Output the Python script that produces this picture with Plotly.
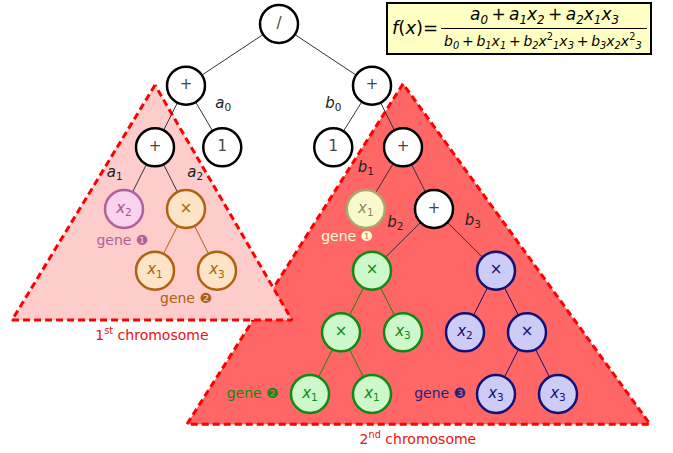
import plotly.graph_objects as go

# ---------------- data ----------------
# tree nodes: label, column (grid units), depth, colour group
node_labels = ["/", "+", "+", "+", "1", "1", "+",
               "<i>x</i><sub>2</sub>", "×", "<i>x</i><sub>1</sub>", "+",
               "<i>x</i><sub>1</sub>", "<i>x</i><sub>3</sub>", "×", "×",
               "×", "<i>x</i><sub>3</sub>", "<i>x</i><sub>2</sub>", "×",
               "<i>x</i><sub>1</sub>", "<i>x</i><sub>1</sub>", "<i>x</i><sub>3</sub>", "<i>x</i><sub>3</sub>"]
node_col = [9, 6, 12, 5, 7.17, 10.75, 13,
            4, 6, 11.8, 14,
            5, 7, 12, 16,
            11, 13, 15, 17,
            10, 12, 16, 18]
node_depth = [0, 1, 1, 2, 2, 2, 2,
              3, 3, 3, 3,
              4, 4, 4, 4,
              5, 5, 5, 5,
              6, 6, 6, 6]
node_group = ["k", "k", "k", "k", "k", "k", "k",
              "pink", "orange", "yellow", "k",
              "orange", "orange", "green", "blue",
              "green", "green", "blue", "blue",
              "green", "green", "blue", "blue"]
node_parent = [None, 0, 0, 1, 1, 2, 2,
               3, 3, 6, 6,
               8, 8, 10, 10,
               13, 13, 14, 14,
               15, 15, 18, 18]

# edge weights (labels) : text, column, depth
edge_labels = ["<i>a</i><sub>0</sub>", "<i>b</i><sub>0</sub>", "<i>a</i><sub>1</sub>",
               "<i>a</i><sub>2</sub>", "<i>b</i><sub>1</sub>", "<i>b</i><sub>2</sub>",
               "<i>b</i><sub>3</sub>"]
edge_label_col = [7.2, 10.75, 3.7, 6.3, 11.8, 12.75, 15.25]
edge_label_depth = [1.3, 1.3, 2.42, 2.42, 2.34, 3.23, 3.2]

# gene labels
gene_texts = ["gene ❶", "gene ❶", "gene ❷", "gene ❷", "gene ❸"]
gene_col = [3.95, 11.2, 6.0, 8.15, 14.2]
gene_depth = [3.52, 3.47, 4.47, 6.0, 6.0]
gene_group = ["pink", "yellow", "orange", "green", "blue"]

# chromosome regions (triangles): columns, depths
chrom1_col = [5, 0.39, 9.42, 5]
chrom1_depth = [0.99, 4.8, 4.8, 0.99]
chrom2_col = [13, 6.03, 20.97, 13]
chrom2_depth = [0.97, 6.49, 6.49, 0.97]
chrom_titles = ["1<sup>st</sup> chromosome", "2<sup>nd</sup> chromosome"]
chrom_title_col = [4.9, 13.48]
chrom_title_depth = [5.07, 6.75]

# formula text
formula_lhs = "<i>f</i>(<i>x</i>)="
formula_num = ("<i>a</i><sub><i>0</i></sub>\u2009+\u2009<i>a</i><sub><i>1</i></sub><i>x</i><sub><i>2</i></sub>"
               "\u2009+\u2009<i>a</i><sub><i>2</i></sub><i>x</i><sub><i>1</i></sub><i>x</i><sub><i>3</i></sub>")
formula_den = ("<i>b</i><sub><i>0</i></sub>\u2009+\u2009<i>b</i><sub><i>1</i></sub><i>x</i><sub><i>1</i></sub>"
               "\u2009+\u2009<i>b</i><sub><i>2</i></sub><i>x</i><sup>2</sup><sub><i>1</i></sub><i>x</i><sub><i>3</i></sub>"
               "\u2009+\u2009<i>b</i><sub><i>3</i></sub><i>x</i><sub><i>2</i></sub><i>x</i><sup>2</sup><sub><i>3</i></sub>")

# ---------------- styles ----------------
fills = {"k": "#ffffff", "pink": "#f9d2ee", "orange": "#fde4c6", "yellow": "#f9f9cc",
         "green": "#ccf8cc", "blue": "#ccccf6"}
borders = {"k": "#000000", "pink": "#b0609a", "orange": "#b0620f", "yellow": "#a8a86a",
           "green": "#108a10", "blue": "#10107a"}
textc = {"k": "#444444", "pink": "#a05a8e", "orange": "#a8620f", "yellow": "#8a8a60",
         "green": "#108a10", "blue": "#10107a"}
gene_textc = {"pink": "#b0609a", "yellow": "#fdfbd8", "orange": "#a8620f",
              "green": "#108a10", "blue": "#22227a"}
FONT = "DejaVu Sans"

fig = go.Figure()

# triangles
fig.add_trace(go.Scatter(x=chrom2_col, y=chrom2_depth, mode="lines", fill="toself",
                         fillcolor="#ff6666", line=dict(color="#ff0000", width=3, dash="7px,4px"),
                         hoverinfo="skip"))
fig.add_trace(go.Scatter(x=chrom1_col, y=chrom1_depth, mode="lines", fill="toself",
                         fillcolor="#ffcccc", line=dict(color="#ff0000", width=3, dash="7px,4px"),
                         hoverinfo="skip"))

# edges
edge_sets = {}
for i, p in enumerate(node_parent):
    if p is None:
        continue
    g = node_group[i] if node_group[i] == node_group[p] else "k"
    ex, ey = edge_sets.setdefault(g, ([], []))
    ex += [node_col[p], node_col[i], None]
    ey += [node_depth[p], node_depth[i], None]
for g, (ex, ey) in edge_sets.items():
    col = "#333333" if g == "k" else borders[g]
    fig.add_trace(go.Scatter(x=ex, y=ey, mode="lines", line=dict(color=col, width=1),
                             hoverinfo="skip"))

# nodes
for g in fills:
    idx = [i for i, gg in enumerate(node_group) if gg == g]
    if not idx:
        continue
    fig.add_trace(go.Scatter(
        x=[node_col[i] for i in idx], y=[node_depth[i] for i in idx],
        mode="markers+text", text=[node_labels[i] for i in idx],
        textposition="middle center",
        textfont=dict(family=FONT, size=15, color=textc[g]),
        marker=dict(size=38, color=fills[g], line=dict(color=borders[g], width=2.5)),
        hoverinfo="skip"))

# edge labels
fig.add_trace(go.Scatter(x=edge_label_col, y=edge_label_depth, mode="text", text=edge_labels,
                         textfont=dict(family=FONT, size=15, color="#222222"), hoverinfo="skip"))

# gene labels
for t, c, d, g in zip(gene_texts, gene_col, gene_depth, gene_group):
    fig.add_trace(go.Scatter(x=[c], y=[d], mode="text", text=[t],
                             textfont=dict(family=FONT, size=14, color=gene_textc[g]),
                             hoverinfo="skip"))

# chromosome titles
fig.add_trace(go.Scatter(x=chrom_title_col, y=chrom_title_depth, mode="text", text=chrom_titles,
                         textfont=dict(family=FONT, size=14, color="#ee1111"), hoverinfo="skip"))

# formula box (paper coordinates)
W, H = 673, 453
def px(x): return x / W
def py(y): return 1 - y / H

fig.add_shape(type="rect", xref="paper", yref="paper", x0=px(387), x1=px(651), y0=py(54), y1=py(3),
              fillcolor="#ffffc4", line=dict(color="#000000", width=2))
fig.add_shape(type="line", xref="paper", yref="paper", x0=px(441), x1=px(647), y0=py(28.5), y1=py(28.5),
              line=dict(color="#000000", width=1))
fig.add_annotation(xref="paper", yref="paper", x=px(415), y=py(28), text=formula_lhs,
                   xanchor="center", yanchor="middle",
                   showarrow=False, font=dict(family=FONT, size=18, color="#000000"))
fig.add_annotation(xref="paper", yref="paper", x=px(544), y=py(16), text=formula_num,
                   xanchor="center", yanchor="middle",
                   showarrow=False, font=dict(family=FONT, size=17, color="#000000"))
fig.add_annotation(xref="paper", yref="paper", x=px(543), y=py(41), text=formula_den,
                   xanchor="center", yanchor="middle",
                   showarrow=False, font=dict(family=FONT, size=14, color="#000000"))

fig.update_layout(
    width=W, height=H, margin=dict(l=0, r=0, t=0, b=0),
    paper_bgcolor="white", plot_bgcolor="white", showlegend=False,
    xaxis=dict(range=[0, W / 31], visible=False, fixedrange=True),
    yaxis=dict(range=[(H - 24) / 61.67, -24 / 61.67], visible=False, fixedrange=True),
)

fig.write_html("out.html", config={"displayModeBar": False},
               post_script="document.body.style.margin='0px';")
